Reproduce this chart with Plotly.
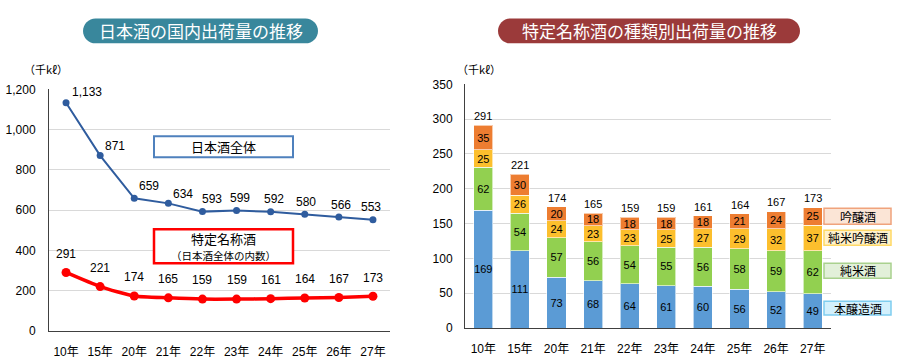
import plotly.graph_objects as go

W, H = 900, 360

years = ["10年", "15年", "20年", "21年", "22年", "23年", "24年", "25年", "26年", "27年"]
total_sake = [1133, 871, 659, 634, 593, 599, 592, 580, 566, 553]
special_sake = [291, 221, 174, 165, 159, 159, 161, 164, 167, 173]

honjozo = [169, 111, 73, 68, 64, 61, 60, 56, 52, 49]
junmai = [62, 54, 57, 56, 54, 55, 56, 58, 59, 62]
junmai_ginjo = [25, 26, 24, 23, 23, 25, 27, 29, 32, 37]
ginjo = [35, 30, 20, 18, 18, 18, 18, 21, 24, 25]

left_title = "日本酒の国内出荷量の推移"
right_title = "特定名称酒の種類別出荷量の推移"
unit = "（千kℓ）"

# label placement (pixel offsets of the blue line labels), style only
blue_label_dx = [21, 15, 15, 15, 10, 3, 3, 1, 2, -2]
blue_label_dy = [10, 9, 12, 9, 12, 12, 12, 12, 12, 12]

FONT = "Liberation Sans, Arial, Noto Sans CJK JP, sans-serif"
JFONT = "Noto Sans CJK JP, sans-serif"

# vertical calibration of the capture (observed = VS * layout_y + VB)
VS, VB = 0.962, 5.6


def px(x):
    return x / W


def ly(y):
    return (y - VB) / VS


def py(y):
    return 1 - ly(y) / H


def dy(d):
    return d / VS


def pill_path(x0, y0, x1, y1):
    r = (x1 - x0) and (y1 - y0) / 2
    k = 0.5523 * r
    pts = []
    pts.append(f"M {px(x0 + r)},{py(y0)}")
    pts.append(f"L {px(x1 - r)},{py(y0)}")
    pts.append(f"C {px(x1 - r + k)},{py(y0)} {px(x1)},{py(y0 + r - k)} {px(x1)},{py(y0 + r)}")
    pts.append(f"C {px(x1)},{py(y0 + r + k)} {px(x1 - r + k)},{py(y1)} {px(x1 - r)},{py(y1)}")
    pts.append(f"L {px(x0 + r)},{py(y1)}")
    pts.append(f"C {px(x0 + r - k)},{py(y1)} {px(x0)},{py(y0 + r + k)} {px(x0)},{py(y0 + r)}")
    pts.append(f"C {px(x0)},{py(y0 + r - k)} {px(x0 + r - k)},{py(y0)} {px(x0 + r)},{py(y0)} Z")
    return " ".join(pts)


def note(x, y, text, size, color="#000", family=JFONT):
    return dict(xref="paper", yref="paper", x=px(x), y=py(y), text=text, showarrow=False,
                xanchor="center", yanchor="middle", font=dict(size=size, color=color, family=family))


fig = go.Figure()

# ---------- left line chart ----------
fig.add_trace(go.Scatter(
    x=years, y=total_sake, mode="lines+markers",
    line=dict(color="#2f5c9e", width=2), marker=dict(size=7, color="#2f5c9e"),
    xaxis="x", yaxis="y", showlegend=False, cliponaxis=False, hoverinfo="skip",
))
fig.add_trace(go.Scatter(
    x=years, y=special_sake, mode="lines+markers",
    line=dict(color="#ff0000", width=3.5, shape="spline", smoothing=0.6),
    marker=dict(size=9, color="#ff0000"),
    xaxis="x", yaxis="y", showlegend=False, cliponaxis=False, hoverinfo="skip",
))

# ---------- right stacked bars ----------
series = [
    ("本醸造酒", honjozo, "#5b9bd5"),
    ("純米酒", junmai, "#92d050"),
    ("純米吟醸酒", junmai_ginjo, "#fcbf2d"),
    ("吟醸酒", ginjo, "#ed7d31"),
]
for name, vals, col in series:
    fig.add_trace(go.Bar(
        x=years, y=vals, name=name,
        marker=dict(color=col, line=dict(color="rgba(255,255,255,0.6)", width=1)),
        text=[str(v) for v in vals], textposition="inside", insidetextanchor="middle",
        textfont=dict(size=11, color="#000", family=FONT), textangle=0,
        xaxis="x2", yaxis="y2", showlegend=False, width=0.52, hoverinfo="skip",
    ))

axis_common = dict(showgrid=False, ticks="", tickfont=dict(size=12, color="#000", family=FONT),
                   showline=True, linecolor="#404040", linewidth=1, zeroline=False,
                   type="category", range=[-0.5, 9.5], ticklabelstandoff=9)
yaxis_common = dict(showgrid=True, gridcolor="#d9d9d9", gridwidth=1, ticks="",
                    tickfont=dict(size=12, color="#000", family=FONT),
                    showline=True, linecolor="#404040", linewidth=1, zeroline=False)

fig.update_layout(
    width=W, height=H, autosize=False, margin=dict(l=0, r=0, t=0, b=0, pad=0),
    paper_bgcolor="white", plot_bgcolor="white",
    barmode="stack", font=dict(family=FONT),
    uniformtext=dict(minsize=11, mode="show"),
    xaxis=dict(domain=[px(49), px(390)], anchor="y", **axis_common),
    yaxis=dict(domain=[py(330), py(88)], anchor="x", range=[0, 1200], dtick=200,
               tickformat=",d", ticklabelstandoff=10, **yaxis_common),
    xaxis2=dict(domain=[px(465), px(831)], anchor="y2", **axis_common),
    yaxis2=dict(domain=[py(327), py(83)], anchor="x2", range=[0, 350], dtick=50,
                ticklabelstandoff=9, **yaxis_common),
)

shapes = []
annotations = []

# data labels
for i, (cat, v) in enumerate(zip(years, total_sake)):
    annotations.append(dict(xref="x", yref="y", x=cat, y=v, text=f"{v:,}", showarrow=False,
                            xanchor="center", yanchor="middle",
                            xshift=blue_label_dx[i], yshift=dy(blue_label_dy[i]),
                            font=dict(size=12, color="#000", family=FONT)))
for cat, v in zip(years, special_sake):
    annotations.append(dict(xref="x", yref="y", x=cat, y=v, text=str(v), showarrow=False,
                            xanchor="center", yanchor="middle", yshift=dy(18),
                            font=dict(size=12, color="#000", family=FONT)))
for cat, v in zip(years, special_sake):
    annotations.append(dict(xref="x2", yref="y2", x=cat, y=v, text=str(v), showarrow=False,
                            xanchor="center", yanchor="middle", yshift=dy(9),
                            font=dict(size=11, color="#000", family=FONT)))

# title pills
shapes.append(dict(type="path", xref="paper", yref="paper", path=pill_path(83, 17, 318, 42),
                   fillcolor="#39879c", line=dict(width=0)))
annotations.append(note(200.5, 29.5, left_title, 17, "white"))
shapes.append(dict(type="path", xref="paper", yref="paper", path=pill_path(498, 17, 800, 42),
                   fillcolor="#9b3a3a", line=dict(width=0)))
annotations.append(note(649, 29.5, right_title, 17, "white"))

# unit labels
annotations.append(note(46, 68, unit, 11))
annotations.append(note(479, 68, unit, 11))

# left legend boxes
shapes.append(dict(type="rect", xref="paper", yref="paper", x0=px(154), x1=px(293), y0=py(135), y1=py(156),
                   line=dict(color="#4f81bd", width=2), fillcolor="white"))
annotations.append(note(223.5, 145.5, "日本酒全体", 13))
shapes.append(dict(type="rect", xref="paper", yref="paper", x0=px(154), x1=px(293), y0=py(228), y1=py(262),
                   line=dict(color="#ff0000", width=2.5), fillcolor="white"))
annotations.append(note(223.5, 237.5, "特定名称酒", 13))
annotations.append(note(223.5, 254, "（日本酒全体の内数）", 10.5))

# right legend boxes
legend_boxes = [
    ("吟醸酒", 207, 223, "#fbe5d6", "#f0a37c"),
    ("純米吟醸酒", 229, 244, "#fff2cc", "#ffd966"),
    ("純米酒", 262, 277, "#e2f0d9", "#a9d18e"),
    ("本醸造酒", 300, 314, "#d3f0fc", "#7fcdef"),
]
for label, y0, y1, fill, border in legend_boxes:
    shapes.append(dict(type="rect", xref="paper", yref="paper", x0=px(824), x1=px(891), y0=py(y0), y1=py(y1),
                       line=dict(color=border, width=1.5), fillcolor=fill))
    annotations.append(note(857.5, (y0 + y1) / 2, label, 12))

fig.update_layout(shapes=shapes, annotations=annotations)

post = (
    "document.documentElement.style.margin='0';"
    "document.documentElement.style.padding='0';"
    "document.documentElement.style.overflow='hidden';"
    "document.body.style.margin='0';"
    "document.body.style.padding='0';"
    "document.body.style.overflow='hidden';"
    "var gd=document.getElementById('{plot_id}');"
    "var p=gd.parentElement;"
    "p.style.position='fixed';p.style.left='0';p.style.top='0';"
    "p.style.width='900px';p.style.height='360px';"
)

fig.write_html("out.html", post_script=post, config={"displayModeBar": False})
